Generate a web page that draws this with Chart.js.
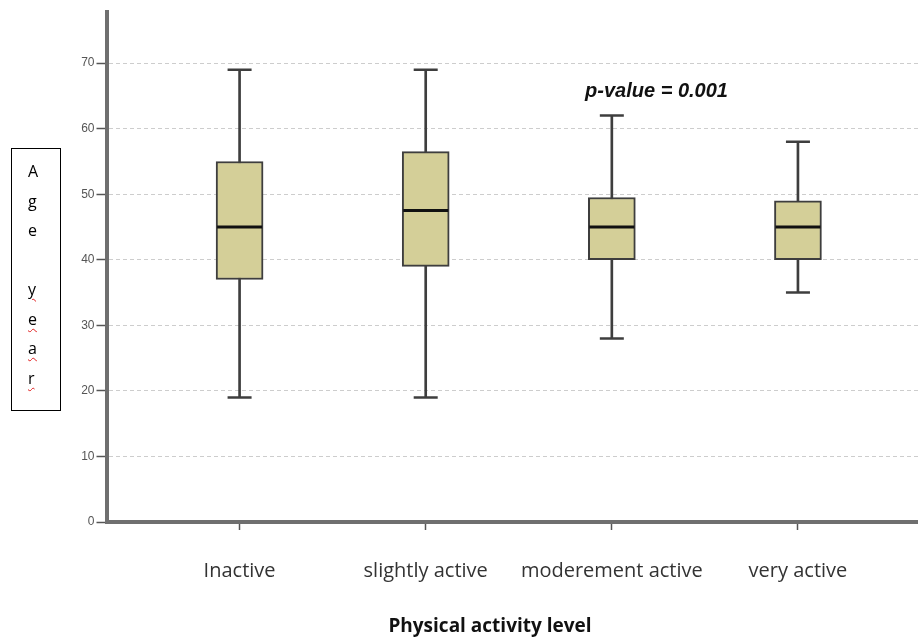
<!DOCTYPE html>
<html>
<head>
<meta charset="utf-8">
<script src="https://cdn.jsdelivr.net/npm/chart.js@4.4.1/dist/chart.umd.min.js"></script>
<style>
  html, body { margin: 0; padding: 0; background: #fff; }
  #wrap { position: relative; width: 918px; height: 639px; }
  #yTitle {
    position: absolute; left: 11px; top: 148px; width: 50px; height: 263px;
    border: 1.5px solid #000; box-sizing: border-box;
    font-family: 'Open Sans', sans-serif; font-size: 16px; color: #000;
    line-height: 29.5px; padding: 8px 0 0 16px;
  }
  #yTitle span { display: block; height: 29.5px; }
  #yTitle .typo { text-decoration: underline wavy #e02020; text-decoration-thickness: 1px; text-underline-offset: 3px; }
  #xTitle {
    position: absolute; left: 0; width: 980px; top: 612px; text-align: center;
    font-family: 'Open Sans', sans-serif; font-weight: bold; font-size: 19px; color: #111;
  }
</style>
</head>
<body>
<div id="wrap">
  <canvas id="boxChart" width="918" height="639"></canvas>
  <div id="yTitle">
    <span>A</span><span>g</span><span>e</span><span>&nbsp;</span>
    <span><span class="typo">y</span></span><span><span class="typo">e</span></span>
    <span><span class="typo">a</span></span><span><span class="typo">r</span></span>
  </div>
  <div id="xTitle">Physical activity level</div>
</div>
<script>
// ─────────────────────────────────────────────────────────────────────────────
// DATA
// ─────────────────────────────────────────────────────────────────────────────

const CATEGORIES    = ['Inactive', 'slightly active', 'moderement active', 'very active'];
const MIN_VALUES    = [19, 19,   28,   35];
const Q1_VALUES     = [37, 39,   40,   40];
const MEDIAN_VALUES = [45, 47.5, 45,   45];
const Q3_VALUES     = [55, 56.5, 49.5, 49];
const MAX_VALUES    = [69, 69,   62,   58];
const Y_TICKS       = [0, 10, 20, 30, 40, 50, 60, 70];

const P_VALUE_TEXT = 'p-value = 0.001';
const P_VALUE_AT   = { x: 3.24, y: 65.6 };

const BOX_FILL   = '#d4cf98';
const LINE_COLOR = '#3e3e3e';

// ─────────────────────────────────────────────────────────────────────────────
// DATASETS
// ─────────────────────────────────────────────────────────────────────────────

const whiskerData = CATEGORIES.map((c, i) => ({ x: i + 1, y: [MIN_VALUES[i], MAX_VALUES[i]] }));
const boxData     = CATEGORIES.map((c, i) => ({ x: i + 1, y: [Q1_VALUES[i], Q3_VALUES[i]] }));
const capData     = CATEGORIES.flatMap((c, i) => [{ x: i + 1, y: MIN_VALUES[i] }, { x: i + 1, y: MAX_VALUES[i] }]);
const medianData  = CATEGORIES.map((c, i) => ({ x: i + 1, y: MEDIAN_VALUES[i] }));

// p-value note, placed in data coordinates
const pValueLabel = {
  id: 'pValueLabel',
  afterDatasetsDraw(chart) {
    const { ctx, scales: { x, y } } = chart;
    ctx.save();
    ctx.font = 'italic bold 20px "Liberation Sans", Arial, sans-serif';
    ctx.fillStyle = '#111';
    ctx.textAlign = 'center';
    ctx.textBaseline = 'middle';
    ctx.fillText(P_VALUE_TEXT, x.getPixelForValue(P_VALUE_AT.x), y.getPixelForValue(P_VALUE_AT.y));
    ctx.restore();
  }
};

new Chart(document.getElementById('boxChart').getContext('2d'), {
  type: 'bar',
  data: {
    datasets: [
      { type: 'bar', data: whiskerData, barThickness: 2, backgroundColor: LINE_COLOR, grouped: false, order: 3 },
      { type: 'bar', data: boxData, barThickness: 47, backgroundColor: BOX_FILL, borderColor: LINE_COLOR,
        borderWidth: 2, borderSkipped: false, grouped: false, order: 2 },
      { type: 'line', data: capData, showLine: false, pointStyle: 'line', pointRadius: 12,
        borderColor: LINE_COLOR, pointBorderWidth: 2.5, order: 1 },
      { type: 'line', data: medianData, showLine: false, pointStyle: 'line', pointRadius: 22.5,
        borderColor: '#111', pointBorderWidth: 3, order: 0 },
    ],
  },
  options: {
    responsive: false,
    animation: false,
    layout: { autoPadding: false, padding: { top: 12, left: 0, right: 0, bottom: 0 } },
    plugins: { legend: { display: false }, tooltip: { enabled: false } },
    scales: {
      x: {
        type: 'linear', min: 0.285, max: 4.645, offset: false,
        afterBuildTicks: s => { s.ticks = CATEGORIES.map((c, i) => ({ value: i + 1 })); },
        afterFit: s => { s.height = 117; s.paddingLeft = 0; s.paddingRight = 0; },
        grid: { offset: false, drawOnChartArea: false, drawTicks: true, tickLength: 8, tickColor: '#555', tickWidth: 1.5 },
        border: { color: '#6f6f6f', width: 4 },
        ticks: {
          padding: 29, autoSkip: false, maxRotation: 0, color: '#333',
          font: { family: 'Open Sans', size: 20 },
          callback: v => CATEGORIES[v - 1],
        },
      },
      y: {
        min: 0, max: 77.8,
        afterBuildTicks: s => { s.ticks = Y_TICKS.map(v => ({ value: v })); },
        afterFit: s => { s.width = 106.5; s.paddingTop = 0; s.paddingBottom = 0; },
        grid: {
          color: c => (c.tick && c.tick.value === 0) ? 'rgba(0,0,0,0)' : '#cdcdcd',
          tickColor: '#555', tickLength: 10, tickWidth: 1.5,
        },
        border: { color: '#6f6f6f', width: 4, dash: [4, 3] },
        ticks: { padding: 2, color: '#555', font: { family: 'Liberation Sans', size: 12 } },
      },
    },
  },
  plugins: [pValueLabel],
});
</script>
</body>
</html>
